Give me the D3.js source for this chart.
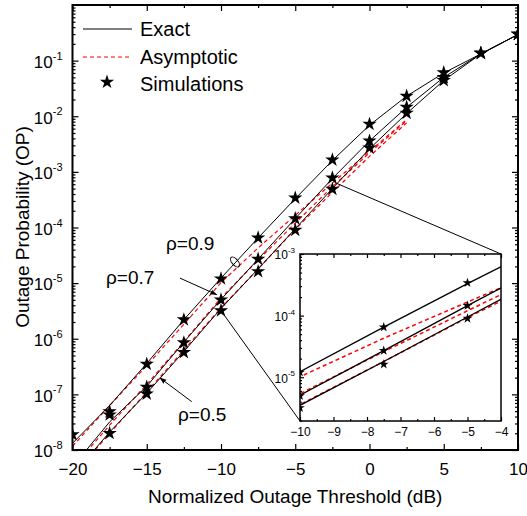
<!DOCTYPE html>
<html>
<head>
<meta charset="utf-8">
<script src="https://cdn.jsdelivr.net/npm/d3@7"></script>
<style>
  body { margin: 0; background: #fff; }
  svg { font-family: "Liberation Sans", Arial, sans-serif; }
  .axis path { display: none; }
  .axis line { stroke: #000; stroke-width: 1.2; }
</style>
</head>
<body>
<div id="chart"></div>
<script>
// ---- data ----
const thresholds = [-20, -17.5, -15, -12.5, -10, -7.5, -5, -2.5, 0, 2.5, 5, 7.5, 10];
const asymThresholds = [-20, -17.5, -15, -12.5, -10, -7.5, -5, -2.5, 0, 2.5];

// exact OP curves
const exact09 = [1.32e-8, 6.3e-8, 3.6e-7, 2.2e-6, 1.23e-5, 6.5e-5, 3.3e-4, 1.6e-3, 6.9e-3, 0.023, 0.060, 0.132, 0.295];
const exact07 = [5.0e-9, 3.2e-8, 1.4e-7, 8.7e-7, 5.1e-6, 2.7e-5, 1.45e-4, 7.6e-4, 3.6e-3, 0.0145, 0.050, 0.132, 0.295];
const exact05 = [3.5e-9, 2.1e-8, 1.05e-7, 5.9e-7, 3.5e-6, 1.8e-5, 9.5e-5, 5.0e-4, 2.6e-3, 0.0112, 0.044, 0.132, 0.295];

// asymptotic curves
const asym09 = [1.17e-8, 6.3e-8, 3.3e-7, 1.82e-6, 1.02e-5, 4.3e-5, 1.66e-4, 6.3e-4, 2.34e-3, 8.7e-3];
const asym07 = [4.8e-9, 2.8e-8, 1.51e-7, 8.9e-7, 5.4e-6, 2.6e-5, 1.2e-4, 5.4e-4, 2.2e-3, 8.3e-3];
const asym05 = [3.4e-9, 2.0e-8, 1.1e-7, 6.3e-7, 3.6e-6, 1.8e-5, 9.3e-5, 4.3e-4, 1.9e-3, 7.6e-3];

// simulation points (null = off the chart)
const sim09 = [1.9e-8, 4.9e-8, 3.5e-7, 2.2e-6, 1.2e-5, 6.5e-5, 3.4e-4, 1.65e-3, 7.2e-3, 0.023, 0.061, 0.136, 0.30];
const sim07 = [null, 4.3e-8, 1.35e-7, 8.5e-7, 5.0e-6, 2.7e-5, 1.45e-4, 7.8e-4, 3.6e-3, 0.0146, 0.050, 0.136, 0.30];
const sim05 = [null, 2.0e-8, 1.02e-7, 5.7e-7, 3.2e-6, 1.62e-5, 9.0e-5, 4.9e-4, 2.7e-3, 0.0114, 0.044, 0.136, 0.30];

const xMajor = [-20, -15, -10, -5, 0, 5, 10];
const xMinor = [-17.5, -12.5, -7.5, -2.5, 2.5, 7.5];
const yDecades = [-8, -7, -6, -5, -4, -3, -2, -1];
const insetXTicks = [-10, -9, -8, -7, -6, -5, -4];
const insetYDecades = [-5, -4, -3];

const exactSeries = [exact09, exact07, exact05];
const asymSeries = [asym09, asym07, asym05];
const simSeries = [sim09, sim07, sim05];

// ---- drawing ----
const W = 527, H = 516;
const svg = d3.select("#chart").append("svg")
    .attr("width", W)
    .attr("height", H);

const defs = svg.append("defs");
defs.append("marker")
    .attr("id", "arrow")
    .attr("viewBox", "0 0 10 10")
    .attr("refX", 9).attr("refY", 5)
    .attr("markerWidth", 7).attr("markerHeight", 7)
    .attr("markerUnits", "userSpaceOnUse")
    .attr("orient", "auto")
    .append("path")
    .attr("d", "M0,1.5 L10,5 L0,8.5 Z")
    .attr("fill", "#000");

// main scales
const x = d3.scaleLinear().domain([-20, 10]).range([72.5, 518]);
const y = d3.scaleLog().domain([1e-8, 1]).range([450, 5]);

// minor ticks for log axes
function minorTicks(lo, hi) {
    let out = [];
    for (let e = lo; e < hi; e++) {
        for (let k = 2; k <= 9; k++) out.push(k * Math.pow(10, e));
    }
    return out;
}

function drawPlot(g, xs, ys, clipId, starSize, lineW) {
    const [x0, x1] = xs.range();
    const [y0, y1] = ys.range();
    defs.append("clipPath").attr("id", clipId)
        .append("rect")
        .attr("x", x0).attr("y", y1)
        .attr("width", x1 - x0).attr("height", y0 - y1);

    const body = g.append("g").attr("clip-path", `url(#${clipId})`);

    const line = () => d3.line()
        .defined(d => d[1] != null)
        .x(d => xs(d[0]))
        .y(d => ys(d[1]));

    asymSeries.forEach(s => {
        body.append("path")
            .datum(asymThresholds.map((t, i) => [t, s[i]]))
            .attr("fill", "none")
            .attr("stroke", "#ff0000")
            .attr("stroke-width", lineW + 0.2)
            .attr("stroke-dasharray", "4,3")
            .attr("d", line());
    });

    exactSeries.forEach(s => {
        body.append("path")
            .datum(thresholds.map((t, i) => [t, s[i]]))
            .attr("fill", "none")
            .attr("stroke", "#000")
            .attr("stroke-width", lineW)
            .attr("d", line());
    });

    const star = d3.symbol().type(d3.symbolStar).size(starSize);
    simSeries.forEach(s => {
        body.selectAll(null)
            .data(thresholds.map((t, i) => [t, s[i]]).filter(d => d[1] != null))
            .enter().append("path")
            .attr("d", star)
            .attr("transform", d => `translate(${xs(d[0])},${ys(d[1])})`)
            .attr("fill", "#000");
    });
    return body;
}

// main plot
const main = svg.append("g");
drawPlot(main, x, y, "clipMain", 64, 1);

// main axes (ticks inward on all four sides)
const yMajor = yDecades.map(e => Math.pow(10, e));
const yMinor = minorTicks(-8, 0);

main.append("g").attr("class", "axis")
    .attr("transform", "translate(0,450)")
    .call(d3.axisBottom(x).tickValues(xMajor).tickSize(-6).tickPadding(13).tickFormat(d3.format("d")))
    .call(g => g.selectAll("text").attr("font-size", 17).attr("font-family", "Liberation Sans, Arial"));
main.append("g").attr("class", "axis")
    .attr("transform", "translate(0,450)")
    .call(d3.axisBottom(x).tickValues(xMinor).tickSize(-3).tickFormat(""));
main.append("g").attr("class", "axis")
    .attr("transform", "translate(0,5)")
    .call(d3.axisTop(x).tickValues(xMajor).tickSize(-6).tickFormat(""));
main.append("g").attr("class", "axis")
    .attr("transform", "translate(0,5)")
    .call(d3.axisTop(x).tickValues(xMinor).tickSize(-3).tickFormat(""));

const yLeft = main.append("g").attr("class", "axis")
    .attr("transform", "translate(72.5,0)")
    .call(d3.axisLeft(y).tickValues(yMajor).tickSize(-6).tickPadding(10).tickFormat(""));
yLeft.selectAll(".tick text").each(function(d) {
    const t = d3.select(this)
        .attr("font-size", 17)
        .attr("font-family", "Liberation Sans, Arial")
        .attr("dy", "0.4em");
    t.append("tspan").text("10");
    t.append("tspan").attr("font-size", 11).attr("dy", "-0.75em").text(Math.round(Math.log10(d)));
});
main.append("g").attr("class", "axis")
    .attr("transform", "translate(72.5,0)")
    .call(d3.axisLeft(y).tickValues(yMinor).tickSize(-3).tickFormat(""));
main.append("g").attr("class", "axis")
    .attr("transform", "translate(518,0)")
    .call(d3.axisRight(y).tickValues(yMajor).tickSize(-6).tickFormat(""));
main.append("g").attr("class", "axis")
    .attr("transform", "translate(518,0)")
    .call(d3.axisRight(y).tickValues(yMinor).tickSize(-3).tickFormat(""));

main.append("rect")
    .attr("x", 72.5).attr("y", 5)
    .attr("width", 518 - 72.5).attr("height", 445)
    .attr("fill", "none").attr("stroke", "#000").attr("stroke-width", 2);

// axis titles
svg.append("text")
    .attr("x", (72.5 + 518) / 2).attr("y", 503)
    .attr("text-anchor", "middle")
    .attr("font-size", 19)
    .text("Normalized Outage Threshold (dB)");
svg.append("text")
    .attr("transform", "translate(29,227) rotate(-90)")
    .attr("text-anchor", "middle")
    .attr("font-size", 19)
    .text("Outage Probability (OP)");

// legend
const legend = svg.append("g").attr("font-size", 20);
legend.append("line").attr("x1", 83).attr("x2", 132).attr("y1", 29).attr("y2", 29)
    .attr("stroke", "#000").attr("stroke-width", 1);
legend.append("text").attr("x", 140).attr("y", 36).text("Exact");
legend.append("line").attr("x1", 83).attr("x2", 132).attr("y1", 57).attr("y2", 57)
    .attr("stroke", "#ff0000").attr("stroke-width", 1.2).attr("stroke-dasharray", "4,3");
legend.append("text").attr("x", 140).attr("y", 64).text("Asymptotic");
legend.append("path").attr("d", d3.symbol().type(d3.symbolStar).size(64))
    .attr("transform", "translate(107,82)");
legend.append("text").attr("x", 140).attr("y", 91).text("Simulations");

// annotations
const ann = svg.append("g").attr("font-size", 19);
ann.append("text").attr("x", 166).attr("y", 250).text("ρ=0.9");
ann.append("ellipse")
    .attr("cx", x(-9.06)).attr("cy", y(2.4e-5))
    .attr("rx", 6).attr("ry", 3)
    .attr("transform", `rotate(50,${x(-9.06)},${y(2.4e-5)})`)
    .attr("fill", "none").attr("stroke", "#000").attr("stroke-width", 1);
ann.append("text").attr("x", 106).attr("y", 284).text("ρ=0.7");
ann.append("line")
    .attr("x1", x(-12.76)).attr("y1", y(1.23e-5))
    .attr("x2", x(-10.29)).attr("y2", y(6.2e-6))
    .attr("stroke", "#000").attr("stroke-width", 1)
    .attr("marker-end", "url(#arrow)");
ann.append("text").attr("x", 178).attr("y", 421).text("ρ=0.5");
ann.append("line")
    .attr("x1", x(-11.97)).attr("y1", y(7.4e-8))
    .attr("x2", x(-14.11)).attr("y2", y(1.97e-7))
    .attr("stroke", "#000").attr("stroke-width", 1)
    .attr("marker-end", "url(#arrow)");

// inset (zoom of -10..-4 dB)
const xi = d3.scaleLinear().domain([-10, -4]).range([300, 501]);
const yi = d3.scaleLog().domain([1.95e-6, 1e-3]).range([421, 254]);

// connector lines from the main curves to the inset corners
svg.append("line")
    .attr("x1", x(-2.2)).attr("y1", y(6.2e-4))
    .attr("x2", 501).attr("y2", 254)
    .attr("stroke", "#000").attr("stroke-width", 1);
svg.append("line")
    .attr("x1", x(-10)).attr("y1", y(3.2e-6))
    .attr("x2", 300).attr("y2", 421)
    .attr("stroke", "#000").attr("stroke-width", 1);

const inset = svg.append("g");
inset.append("rect")
    .attr("x", 300).attr("y", 254).attr("width", 201).attr("height", 167)
    .attr("fill", "#fff");
drawPlot(inset, xi, yi, "clipInset", 30, 1.3);

const insetHalf = d3.range(-9.5, -4, 1);
inset.append("g").attr("class", "axis")
    .attr("transform", "translate(0,421)")
    .call(d3.axisBottom(xi).tickValues(insetXTicks).tickSize(-4).tickPadding(6).tickFormat(d3.format("d")))
    .call(g => g.selectAll("text").attr("font-size", 12).attr("font-family", "Liberation Sans, Arial"));
inset.append("g").attr("class", "axis")
    .attr("transform", "translate(0,421)")
    .call(d3.axisBottom(xi).tickValues(insetHalf).tickSize(-2).tickFormat(""));
inset.append("g").attr("class", "axis")
    .attr("transform", "translate(0,254)")
    .call(d3.axisTop(xi).tickValues(insetXTicks).tickSize(-4).tickFormat(""));
inset.append("g").attr("class", "axis")
    .attr("transform", "translate(0,254)")
    .call(d3.axisTop(xi).tickValues(insetHalf).tickSize(-2).tickFormat(""));

const yiLeft = inset.append("g").attr("class", "axis")
    .attr("transform", "translate(300,0)")
    .call(d3.axisLeft(yi).tickValues(insetYDecades.map(e => Math.pow(10, e))).tickSize(-4).tickPadding(5).tickFormat(""));
yiLeft.selectAll(".tick text").each(function(d) {
    const t = d3.select(this)
        .attr("font-size", 12)
        .attr("font-family", "Liberation Sans, Arial")
        .attr("dy", "0.4em");
    t.append("tspan").text("10");
    t.append("tspan").attr("font-size", 8).attr("dy", "-0.8em").text(Math.round(Math.log10(d)));
});
inset.append("g").attr("class", "axis")
    .attr("transform", "translate(300,0)")
    .call(d3.axisLeft(yi).tickValues(minorTicks(-6, -3).filter(v => v >= 1.95e-6)).tickSize(-2).tickFormat(""));

inset.append("rect")
    .attr("x", 300).attr("y", 254).attr("width", 201).attr("height", 167)
    .attr("fill", "none").attr("stroke", "#000").attr("stroke-width", 1.5);
</script>
</body>
</html>
